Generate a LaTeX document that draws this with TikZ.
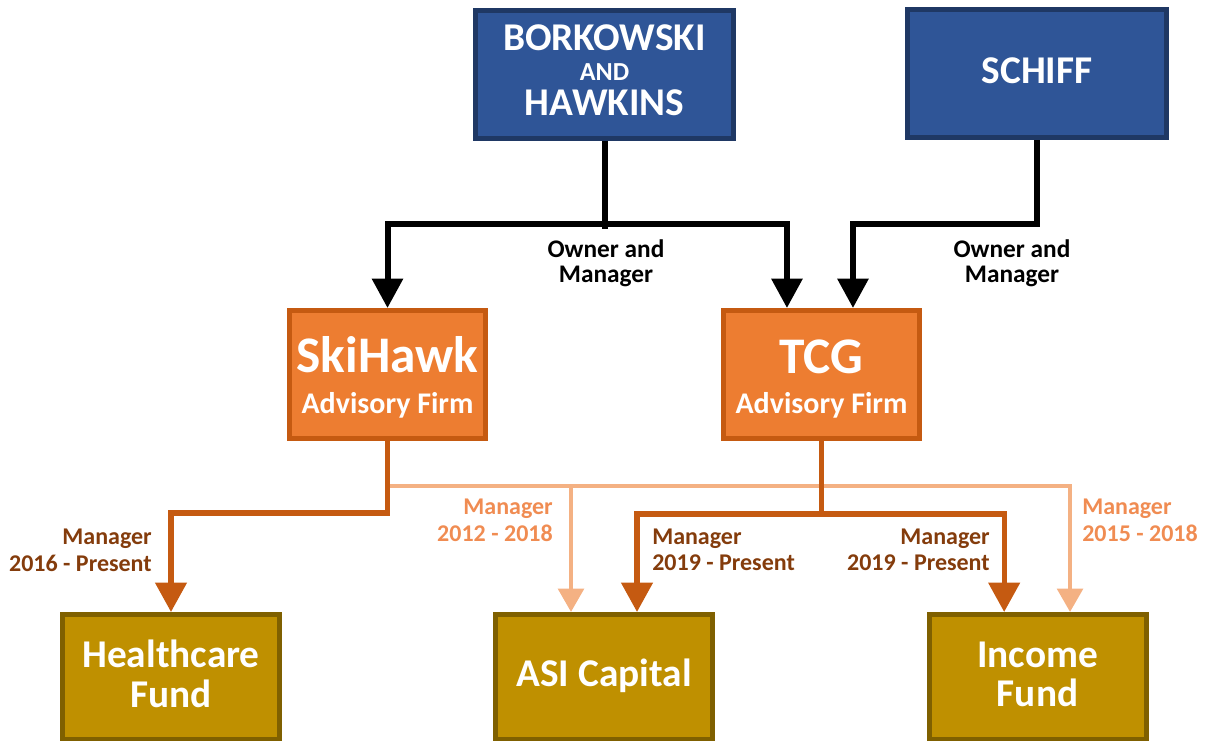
\documentclass[tikz,border=0pt]{standalone}
\usepackage{fontspec}
\setmainfont{Carlito}
\usetikzlibrary{arrows.meta}
\definecolor{bluefill}{HTML}{2F5597}
\definecolor{blueline}{HTML}{1F3864}
\definecolor{orfill}{HTML}{ED7D31}
\definecolor{orline}{HTML}{C55A11}
\definecolor{goldfill}{HTML}{BF9000}
\definecolor{goldline}{HTML}{7F6000}
\definecolor{lightor}{HTML}{F4B183}
\definecolor{lighttext}{HTML}{F08C52}
\definecolor{darktext}{HTML}{843C0C}
\tikzset{
  box/.style={draw, line width=3.75pt, inner sep=0pt, rectangle},
  bluebox/.style={box, fill=bluefill, draw=blueline, minimum width=193.5pt, minimum height=96pt},
  orbox/.style={box, fill=orfill, draw=orline, minimum width=147pt, minimum height=96pt},
  goldbox/.style={box, fill=goldfill, draw=goldline, minimum width=162.75pt, minimum height=93.75pt},
  boxtext/.style={text=white, font=\bfseries, inner sep=0pt, anchor=base},
  lbl/.style={font=\bfseries\fontsize{18}{20}\selectfont, inner sep=0pt},
  blk/.style={line width=4.5pt, black},
  blkarrow/.style={blk, -{Triangle[width=22.5pt,length=22pt]}},
  darkline/.style={line width=4pt, orline},
  darkarrow/.style={darkline, -{Triangle[width=23pt,length=22pt]}},
  lightline/.style={line width=3.4pt, lightor},
  lightarrow/.style={lightline, -{Triangle[width=19pt,length=17.5pt]}},
}
\begin{document}
\begin{tikzpicture}[x=0.75pt, y=-0.75pt]
\useasboundingbox (0,0) rectangle (1217,740);
% boxes
\node[bluebox] (bh) at (604.5,74) {};
\node[bluebox, minimum width=194.25pt] (sch) at (1037,73.5) {};
\node[orbox] (ski) at (387.5,374.5) {};
\node[orbox] (tcg) at (821.5,374.5) {};
\node[goldbox] (hc) at (171,677) {};
\node[goldbox] (asi) at (604,677) {};
\node[goldbox] (inc) at (1037.5,677) {};
% box texts
\node[boxtext, font=\bfseries\fontsize{29.5}{30}\selectfont] (bh1) at (604.5,50) {BORKOWSKI};
\node[boxtext, font=\bfseries\fontsize{19.5}{20}\selectfont] (bh2) at (604.5,80) {AND};
\node[boxtext, font=\bfseries\fontsize{29.5}{30}\selectfont] (bh3) at (604.5,115) {HAWKINS};
\node[boxtext, font=\bfseries\fontsize{29.5}{30}\selectfont] (sch1) at (1037,83) {SCHIFF};
\node[boxtext, font=\bfseries\fontsize{38.5}{40}\selectfont] (ski1) at (387.5,372) {SkiHawk};
\node[boxtext, font=\bfseries\fontsize{22.5}{24}\selectfont] (ski2) at (387.5,413) {Advisory Firm};
\node[boxtext, font=\bfseries\fontsize{38.5}{40}\selectfont] (tcg1) at (821.5,373) {TCG};
\node[boxtext, font=\bfseries\fontsize{22.5}{24}\selectfont] (tcg2) at (821.5,413) {Advisory Firm};
\node[boxtext, font=\bfseries\fontsize{29.5}{30}\selectfont] (hc1) at (171,667) {Healthcare};
\node[boxtext, font=\bfseries\fontsize{29.5}{30}\selectfont] (hc2) at (171,707) {Fund};
\node[boxtext, font=\bfseries\fontsize{29.5}{30}\selectfont] (asi1) at (604,686) {ASI Capital};
\node[boxtext, font=\bfseries\fontsize{29.5}{30}\selectfont] (inc1) at (1037.5,667) {Income};
\node[boxtext, font=\bfseries\fontsize{29.5}{30}\selectfont] (inc2) at (1037.5,706) {Fund};
% black connectors
\draw[blk] (bh.south) -- ++(0,88) coordinate (bjx);
\coordinate (bj) at (bh.south |- 0,224);
\draw[blkarrow] (bj) -| (ski.north);
\draw[blkarrow] (bj) -| ([xshift=-25.9pt]tcg.north);
\draw[blkarrow] (sch.south) -- (sch.south |- 0,224) -| ([xshift=23.6pt]tcg.north);
% light connectors
\coordinate (lj) at (ski.south |- 0,486);
\draw[lightarrow] (lj) -| ([xshift=-24.75pt]asi.north);
\draw[lightarrow] (lj) -| ([xshift=24.4pt]inc.north);
% dark connectors
\draw[darkarrow] (ski.south) -- (ski.south |- 0,513) -| (hc.north);
\draw[darkline] (tcg.south) -- (tcg.south |- 0,514) coordinate (tj);
\draw[darkarrow] (tj) -| ([xshift=24.75pt]asi.north);
\draw[darkarrow] (tj) -| ([xshift=-25pt]inc.north);
% labels
\node[lbl, font=\bfseries\fontsize{19}{20}\selectfont, anchor=base] (o1a) at (606,257) {Owner and};
\node[lbl, font=\bfseries\fontsize{19}{20}\selectfont, anchor=base] (o1b) at (606,282) {Manager};
\node[lbl, font=\bfseries\fontsize{19}{20}\selectfont, anchor=base] (o2a) at (1012,257) {Owner and};
\node[lbl, font=\bfseries\fontsize{19}{20}\selectfont, anchor=base] (o2b) at (1012,282) {Manager};
\node[lbl, text=darktext, anchor=base east] (m1a) at (152,544) {Manager};
\node[lbl, text=darktext, anchor=base east] (m1b) at (152,571) {2016 - Present};
\node[lbl, text=lighttext, anchor=base east] (m2a) at (553,514) {Manager};
\node[lbl, text=lighttext, anchor=base east] (m2b) at (553,541) {2012 - 2018};
\node[lbl, text=darktext, anchor=base west] (m3a) at (652,544) {Manager};
\node[lbl, text=darktext, anchor=base west] (m3b) at (652,570) {2019 - Present};
\node[lbl, text=darktext, anchor=base east] (m4a) at (990,544) {Manager};
\node[lbl, text=darktext, anchor=base east] (m4b) at (990,570) {2019 - Present};
\node[lbl, text=lighttext, anchor=base west] (m5a) at (1082,514) {Manager};
\node[lbl, text=lighttext, anchor=base west] (m5b) at (1082,541) {2015 - 2018};
\end{tikzpicture}
\end{document}
